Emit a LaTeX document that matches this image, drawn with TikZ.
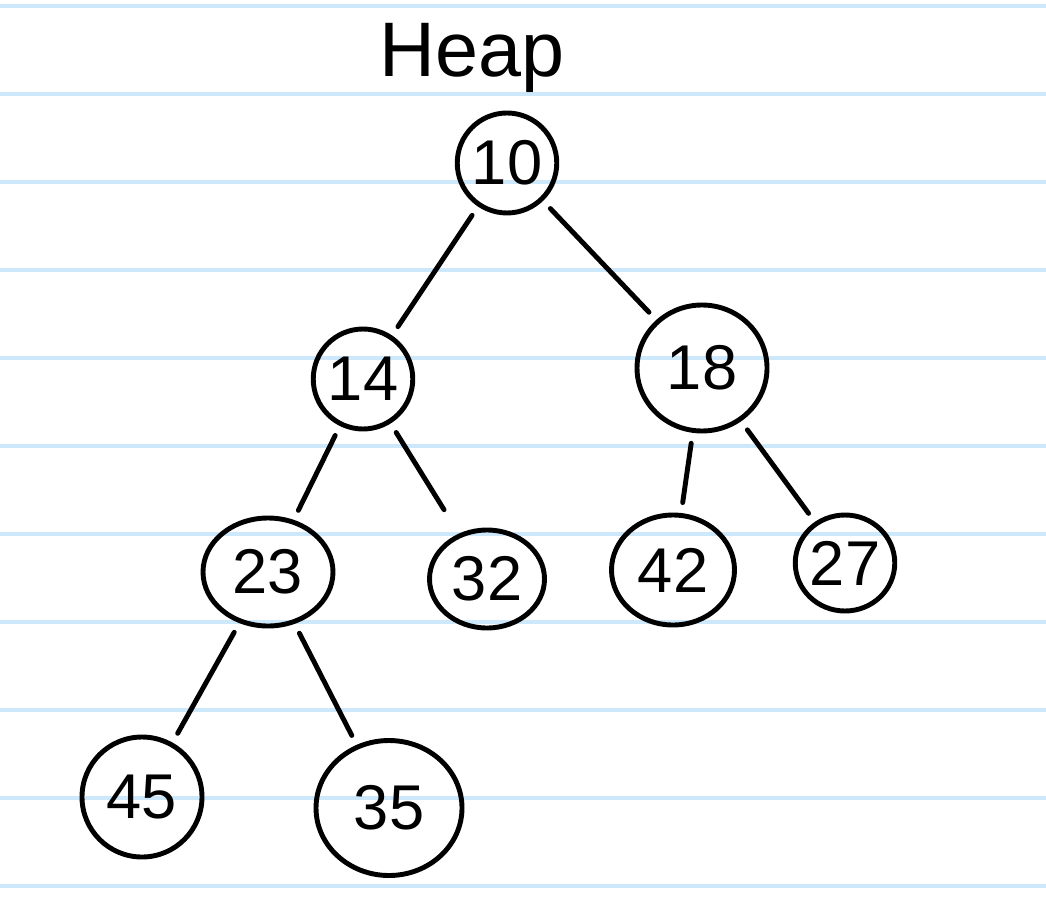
\documentclass[tikz,border=0pt]{standalone}
\usepackage{fontspec}
\setmainfont{Liberation Sans}
\usetikzlibrary{shapes.geometric}
\definecolor{ruled}{RGB}{204,232,250}

\begin{document}
\begin{tikzpicture}[
    x=1cm, y=1cm,
    key/.style={ellipse, draw, line width=1.4pt, inner sep=0pt,
                font=\fontsize{18}{22}\selectfont},
    link/.style={line width=1.4pt, line cap=round, shorten <=3pt, shorten >=3pt}
]
    % paper
    \useasboundingbox (0,0) rectangle (10.46,-9.04);
    \fill[white] (0,0) rectangle (10.46,-9.04);
    \foreach \k in {0,...,10}
        \draw[ruled, line width=1.2pt] (0,-0.06-0.88*\k) -- (10.46,-0.06-0.88*\k);

    \node[font=\fontsize{22}{26}\selectfont] (title) at (4.72,-0.58) {Heap};

    % tree
    \node[key, minimum width=0.94cm, minimum height=1.00cm] (n10) at (5.07,-1.63) {10};
    \node[key, minimum width=0.94cm, minimum height=1.00cm] (n14) at (3.63,-3.79) {14};
    \node[key, minimum width=1.30cm, minimum height=1.26cm] (n18) at (7.02,-3.68) {18};
    \node[key, minimum width=1.30cm, minimum height=1.08cm] (n23) at (2.68,-5.72) {23};
    \node[key, minimum width=1.15cm, minimum height=0.98cm] (n32) at (4.87,-5.79) {32};
    \node[key, minimum width=1.23cm, minimum height=1.10cm] (n42) at (6.73,-5.70) {42};
    \node[key, minimum width=0.96cm, minimum height=0.96cm] (n27) at (8.45,-5.63) {27};
    \node[key, minimum width=1.20cm, minimum height=1.20cm] (n45) at (1.42,-7.97) {45};
    \node[key, minimum width=1.46cm, minimum height=1.35cm] (n35) at (3.89,-8.08) {35};

    \draw[link] (n10) -- (n14);
    \draw[link] (n10) -- (n18);
    \draw[link] (n14) -- (n23);
    \draw[link, shorten >=8pt] (n14) -- (n32);
    \draw[link] (n18) -- (n42);
    \draw[link] (n18) -- (n27);
    \draw[link] (n23) -- (n45);
    \draw[link] (n23) -- (n35);
\end{tikzpicture}
\end{document}
